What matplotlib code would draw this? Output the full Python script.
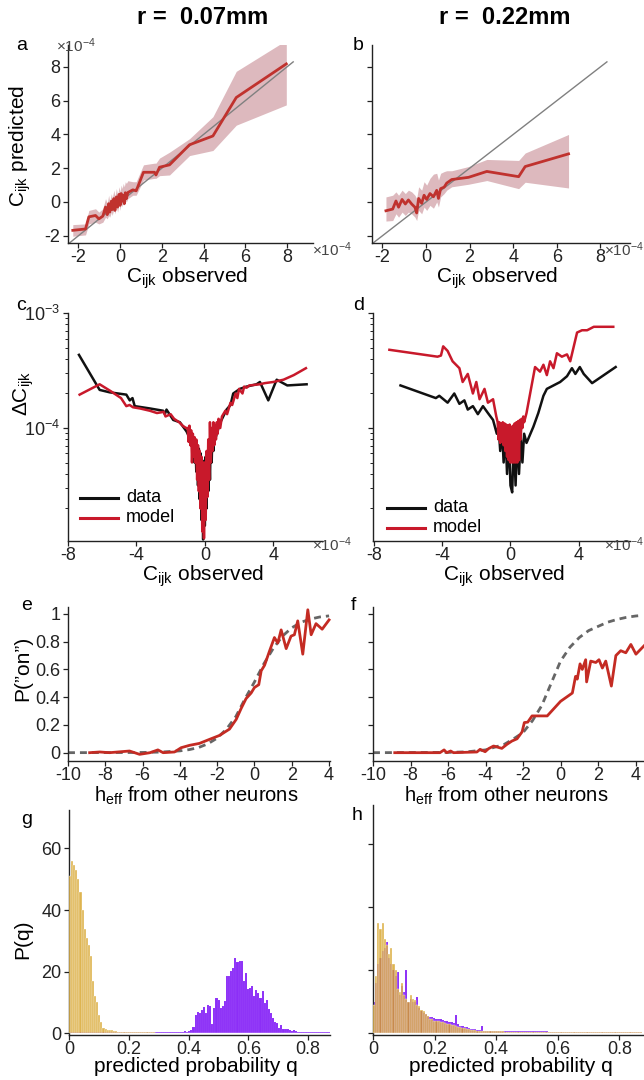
import numpy as np
import matplotlib
matplotlib.use("Agg")
import matplotlib.pyplot as plt
from matplotlib.ticker import FixedLocator, NullFormatter

plt.rcParams['font.family'] = ['Liberation Sans', 'DejaVu Sans']
plt.rcParams['mathtext.fontset'] = 'custom'
plt.rcParams['mathtext.rm'] = 'Liberation Sans'
plt.rcParams['mathtext.it'] = 'Liberation Sans:italic'
plt.rcParams['mathtext.bf'] = 'Liberation Sans:bold'
plt.rcParams['axes.unicode_minus'] = False

# ---------------- data ----------------
titles = ["r =  0.07mm", "r =  0.22mm"]

# panel a (units 1e-4)
a_x = [-2.27, -1.66, -1.5, -1.18, -1.02, -0.83, -0.7, -0.62, -0.55, -0.5, -0.42, -0.38, -0.3, -0.25,
       -0.18, -0.12, -0.05, 0.0, 0.05, 0.1, 0.15, 0.2, 0.25, 0.3, 0.37, 0.61, 0.77, 1.12, 1.65, 1.72,
       1.89, 2.37, 3.33, 4.45, 5.57, 7.97]
a_y = [-1.68, -1.6, -0.88, -0.8, -1.0, -0.84, -0.3, -0.75, -0.1, -0.6, 0.05, -0.45, 0.2, -0.5,
       0.3, -0.3, 0.45, -0.2, 0.5, 0.05, 0.4, -0.1, 0.55, 0.2, 0.56, 0.72, 0.66, 1.76, 1.76, 1.6,
       2.06, 2.2, 3.39, 3.91, 6.19, 8.18]
a_lo = [-2.03, -1.95, -1.3, -1.2, -1.3, -1.2, -0.9, -1.0, -0.8, -0.9, -0.6, -0.8, -0.4, -0.7,
        -0.3, -0.6, -0.1, -0.5, 0.0, -0.3, 0.0, -0.2, 0.1, 0.0, 0.2, 0.4, 0.4, 1.3, 1.4, 1.4,
        1.56, 1.6, 2.75, 3.05, 4.55, 5.75]
a_hi = [-1.34, -1.3, -0.5, -0.4, -0.6, -0.4, 0.2, -0.1, 0.4, 0.0, 0.5, 0.2, 0.7, 0.3,
        0.8, 0.4, 0.9, 0.6, 1.0, 0.8, 1.1, 0.9, 1.2, 1.1, 1.26, 1.2, 1.2, 2.2, 2.3, 2.3,
        2.6, 2.95, 3.75, 5.05, 7.74, 9.58]

# panel b
b_x = [-1.84, -1.53, -1.38, -1.26, -1.1, -0.95, -0.81, -0.66, -0.51, -0.43, -0.34, -0.2, -0.09,
       0.03, 0.18, 0.34, 0.49, 0.57, 0.67, 0.83, 0.95, 1.18, 1.95, 2.79, 4.25, 4.55, 6.54]
b_y = [-0.52, -0.42, 0.06, -0.31, 0.15, -0.12, 0.12, -0.12, -0.31, -0.65, 0.21, -0.08, 0.4,
       0.15, 0.5, 0.31, 0.69, 0.21, 0.79, 0.88, 1.12, 1.33, 1.46, 1.81, 1.5, 2.1, 2.85]
b_lo = [-1.13, -1.1, -0.7, -0.9, -0.6, -0.8, -0.6, -0.7, -0.9, -1.1, -0.5, -0.7, -0.3,
        -0.5, -0.2, -0.37, 0.0, -0.3, 0.3, 0.5, 0.7, 0.9, 1.05, 1.27, 0.79, 1.17, 0.83]
b_hi = [0.3, 0.4, 0.6, 0.4, 0.7, 0.5, 0.7, 0.6, 0.4, 0.2, 0.9, 0.7, 1.2, 1.0, 1.4, 1.65,
        1.7, 1.3, 1.7, 1.8, 1.85, 1.85, 2.1, 2.52, 2.46, 2.9, 4.0]

# panel c (x in 1e-4, y as log10)
c_data_x = [-7.36, -6.15, -5.56, -4.59, -4.39, -4.23, -4.1, -3.22, -2.44, -2.34, -2.24, -1.85, -1.46,
            -1.07, -0.85, -0.7,
            -0.65, -0.6, -0.55, -0.5, -0.45, -0.4, -0.35, -0.3, -0.25, -0.2, -0.15, -0.1, -0.05, 0.0,
            0.05, 0.1, 0.15, 0.2, 0.25, 0.3, 0.35, 0.4, 0.45, 0.5, 0.55, 0.6,
            0.88, 1.27, 1.5, 1.66, 2.05, 2.44, 3.02, 3.22, 3.71, 4.2, 4.82, 5.95]
c_data_logy = [-3.364, -3.669, -3.69, -3.71, -3.76, -3.74, -3.81, -3.83, -3.85, -3.88, -3.84, -3.93, -3.95,
               -4.03, -4.1, -4.18,
               -4.1, -4.3, -4.12, -4.38, -4.15, -4.5, -4.18, -4.62, -4.22, -4.8, -4.28, -4.97, -4.3, -4.85,
               -4.25, -4.7, -4.2, -4.55, -4.15, -4.45, -4.05, -4.3, -4.0, -4.2, -3.98, -4.1,
               -3.96, -3.84, -3.8, -3.70, -3.66, -3.64, -3.62, -3.60, -3.76, -3.58, -3.63, -3.62]
c_model_x = [-7.32, -6.15, -5.5, -4.9, -4.59, -4.4, -4.2, -3.8, -3.22, -2.8, -2.4, -2.3, -2.0, -1.8,
             -1.5, -1.3, -1.1,
             -1.0, -0.95, -0.9, -0.85, -0.8, -0.75, -0.7, -0.65, -0.6, -0.55, -0.5, -0.45, -0.4, -0.35,
             -0.3, -0.25, -0.2, -0.15, -0.1, -0.05, 0.0, 0.05, 0.1, 0.15, 0.2, 0.25, 0.3, 0.35, 0.4,
             0.45, 0.5, 0.55, 0.6, 0.65, 0.7, 0.75, 0.8, 0.9, 1.0,
             1.2, 1.3, 1.5, 1.6, 1.8, 1.9, 2.0, 2.2, 2.3, 2.44, 2.6, 3.22, 3.5, 4.0, 4.6, 5.2, 5.91]
c_model_logy = [-3.71, -3.62, -3.68, -3.74, -3.81, -3.8, -3.82, -3.83, -3.85, -3.87, -3.86, -3.9, -3.88,
                -3.92, -3.95, -3.98, -4.0,
                -4.0, -4.12, -3.98, -4.15, -4.02, -4.3, -4.05, -4.25, -4.08, -4.3, -4.1, -4.45, -4.15,
                -4.55, -4.2, -4.7, -4.25, -4.9, -4.3, -4.96, -4.3, -4.8, -4.2, -4.6, -4.1, -4.45,
                -3.95, -4.3, -4.0, -4.2, -3.95, -4.15, -3.98, -4.1, -3.95, -4.05, -3.92, -4.0, -3.9,
                -3.85, -3.88, -3.78, -3.8, -3.7, -3.74, -3.66, -3.7, -3.64, -3.65, -3.63, -3.62,
                -3.61, -3.6, -3.58, -3.54, -3.48]

# panel d
d_data_x = [-6.44, -4.37, -4.17, -3.68, -3.29, -2.99, -2.7, -2.5, -2.2, -1.91, -1.61, -1.32, -1.02,
            -0.8, -0.7, -0.6, -0.5, -0.4, -0.3, -0.2, -0.1, 0.0, 0.1, 0.2, 0.3, 0.4, 0.5, 0.6, 0.7,
            0.8, 0.94, 1.34, 1.63, 1.93, 2.13, 2.52, 2.91, 3.31, 3.6, 3.8, 4.06, 4.29, 4.78, 6.16]
d_data_logy = [-3.63, -3.74, -3.72, -3.78, -3.70, -3.79, -3.76, -3.84, -3.81, -3.88, -3.81, -3.87, -3.93,
               -4.05, -3.98, -4.2, -4.0, -4.3, -4.02, -4.4, -4.05, -4.5, -4.56, -4.08, -4.5, -4.05,
               -4.4, -4.08, -4.3, -4.05, -4.13, -3.99, -3.87, -3.72, -3.66, -3.63, -3.6, -3.55,
               -3.48, -3.53, -3.47, -3.53, -3.61, -3.47]
d_model_x = [-7.09, -4.27, -4.07, -3.94, -3.68, -3.39, -2.99, -2.8, -2.5, -2.2, -2.0, -1.81, -1.52,
             -1.32, -1.02, -0.83,
             -0.75, -0.7, -0.65, -0.6, -0.55, -0.5, -0.45, -0.4, -0.35, -0.3, -0.25, -0.2, -0.15,
             -0.1, -0.05, 0.0, 0.05, 0.1, 0.15, 0.2, 0.25, 0.3, 0.35, 0.4, 0.45, 0.5, 0.55, 0.6,
             0.65, 0.7, 0.75, 0.8, 0.94,
             1.24, 1.44, 1.73, 1.93, 2.13, 2.32, 2.52, 2.72, 3.01, 3.31, 3.5, 3.9, 4.19, 4.49,
             4.88, 6.02]
d_model_logy = [-3.32, -3.38, -3.37, -3.29, -3.33, -3.42, -3.48, -3.6, -3.53, -3.7, -3.6, -3.75, -3.66,
                -3.78, -3.75, -3.9,
                -3.95, -4.1, -3.95, -4.13, -3.96, -4.12, -3.95, -4.15, -3.96, -4.2, -3.97, -4.25,
                -3.98, -4.28, -3.97, -4.3, -3.99, -4.3, -3.98, -4.3, -3.96, -4.3, -3.95, -4.3,
                -3.94, -4.28, -3.93, -4.1, -3.92, -4.0, -3.9, -3.95, -3.87,
                -3.63, -3.47, -3.51, -3.45, -3.54, -3.42, -3.48, -3.35, -3.38, -3.36, -3.42, -3.17,
                -3.15, -3.15, -3.12, -3.12]

# panel e
e_fit_x = [-10, -6, -5, -4, -3.5, -3, -2.5, -2, -1.5, -1, -0.5, 0, 0.5, 1, 1.5, 2, 2.5, 3, 3.5, 4]
e_fit_y = [0.0, 0.0016, 0.0045, 0.013, 0.022, 0.037, 0.064, 0.105, 0.17, 0.26, 0.39, 0.51, 0.64,
           0.75, 0.84, 0.90, 0.94, 0.963, 0.978, 0.986]
e_x = [-8.84, -8.3, -7.77, -6.7, -6.16, -5.6, -5.18, -4.9, -4.29, -3.93, -3.48, -2.95, -2.41, -1.88,
       -1.34, -0.98, -0.71, -0.45, -0.18, 0.0, 0.23, 0.36, 0.54, 0.8, 1.07, 1.25, 1.43, 1.7, 1.96,
       2.14, 2.32, 2.59, 2.86, 3.04, 3.3, 3.63, 4.0]
e_y = [0.0, 0.005, 0.0, 0.012, -0.012, 0.0, 0.02, 0.0, 0.005, 0.036, 0.053, 0.067, 0.096, 0.124,
       0.17, 0.24, 0.32, 0.39, 0.43, 0.47, 0.49, 0.59, 0.63, 0.73, 0.83, 0.79, 0.885, 0.75, 0.84,
       0.85, 0.95, 0.71, 1.03, 0.85, 0.93, 0.89, 0.957]

# panel f
f_fit_x = [-10, -6, -5, -4, -3.5, -3, -2.5, -2, -1.5, -1, -0.5, 0, 0.5, 1, 1.5, 2, 2.5, 3, 3.5, 4, 4.4]
f_fit_y = [0.0, 0.002, 0.006, 0.02, 0.04, 0.06, 0.1, 0.145, 0.23, 0.34, 0.5, 0.66, 0.76, 0.83, 0.88,
           0.91, 0.94, 0.96, 0.975, 0.985, 0.99]
f_x = [-8.84, -6.43, -6.21, -6.07, -5.86, -5.71, -4.46, -4.29, -4.02, -3.84, -3.57, -3.13, -2.86,
       -2.59, -2.32, -2.05, -1.93, -1.75, -1.52, -0.71, 0.0, 0.63, 0.8, 0.89, 1.04, 1.16, 1.34, 1.39,
       1.61, 1.88, 2.05, 2.23, 2.41, 2.71, 2.95, 3.21, 3.48, 3.75, 4.02, 4.45]
f_y = [0.0, 0.0, 0.02, 0.0, 0.012, 0.0, 0.005, 0.024, 0.007, 0.029, 0.048, 0.031, 0.06, 0.084, 0.1,
       0.15, 0.217, 0.22, 0.265, 0.265, 0.37, 0.43, 0.55, 0.53, 0.64, 0.6, 0.67, 0.51, 0.66, 0.65,
       0.67, 0.61, 0.66, 0.48, 0.7, 0.735, 0.72, 0.78, 0.71, 0.77]

# panels g, h: histogram heights, bins of width 0.007 from 0 to 0.875
bin_width = 0.007
g_yellow = ([51, 56, 54.5, 53, 50, 46, 40, 34, 31, 28.5, 25, 17, 12, 10, 6, 3.5, 1.8, 1.4, 1.0, 0.9,
             0.9, 0.7, 0.6, 0.5, 0.5, 0.5, 0.5, 0.5] + [0.3] * 13 + [0.2] * 84)
g_purple = ([0.3] * 20 + [0.4] * 35 +
            [0.8, 0.4, 0.6, 1.0, 2, 6, 6.8, 6.4, 7.5, 8.5, 6.6, 9.3, 8.8, 3, 8.3, 11.5, 10.7, 8.3,
             8.8, 10.4, 18.6, 18.6, 20.2, 21.3, 24.3, 23, 23.3, 23.3, 17, 19.7, 14.2, 14.6, 15.3,
             12, 13.9, 13.2, 11.5, 13.7, 9.9, 10.7, 8, 6.4, 5, 3.7, 3.4, 1.7, 2.6, 1.5, 1.2, 1.4,
             1, 0.7, 0.9, 0.7, 0.5, 0.5] + [0.3] * 14)
h_yellow = ([9, 18, 35, 33, 35, 30, 28, 25, 27, 22, 20, 14, 13, 16, 12, 11, 10, 12, 11, 10.5, 9, 8.5,
             7.5, 7, 6, 5.5, 4.5, 4.5, 4, 4, 3.8, 3.6, 3.4, 3.2, 3, 2.8, 2.7, 2.5, 2.3, 2, 1.8,
             1.6, 1.5, 1.3, 1.2, 1.1, 1, 0.9, 0.8, 0.8, 0.7] + [0.6] * 10 + [0.4] * 20 + [0.3] * 44)
h_purple = ([10, 16, 22, 24, 26, 27, 29, 24, 22, 20, 18, 19.5, 12, 15, 13, 20, 10, 11, 10, 10, 11.5,
             8, 7, 6.5, 6, 5.5, 5, 5, 4.8, 4.6, 4.5, 4.4, 4.2, 4, 3.8, 3.6, 3.4, 3.2, 5.7, 2.8,
             2.4, 2.2, 2.0, 1.8, 1.6, 1.4, 1.3, 1.2, 1.1, 1.0, 2.4] + [0.8] * 10 + [0.6] * 20 + [0.5] * 44)

# ---------------- style ----------------
W, H = 644, 1080
fig = plt.figure(figsize=(W / 100, H / 100), dpi=100)

def rect(x0, y0, x1, y1):
    return [x0 / W, 1 - y1 / H, (x1 - x0) / W, (y1 - y0) / H]

def fx(x):
    return x / W

def fy(y):
    return 1 - y / H

TICK = 13
LAB = 15
AXC = '#222222'
RED_AB = '#C0322E'
FILL_AB = '#DDB9BE'
RED_CD = '#C8192B'
RED_EF = '#C42B23'
YEL = '#D6A124'
PUR = '#8C2EF7'

def style(ax, hide_y=False):
    for s in ['top', 'right']:
        ax.spines[s].set_visible(False)
    for s in ['left', 'bottom']:
        ax.spines[s].set_color(AXC)
        ax.spines[s].set_linewidth(1.0)
    ax.tick_params(direction='out', length=3.5, width=0.9, colors=AXC, labelsize=TICK, pad=2)
    ax.tick_params(which='minor', direction='out', length=2, width=0.7, colors=AXC)
    ax.tick_params(axis='x', pad=1)
    if hide_y:
        ax.tick_params(axis='y', labelleft=False)

def offset_text(x, y):
    fig.text(fx(x), fy(y), r'$\times10^{-4}$', fontsize=11, color='#444444', ha='left', va='baseline')

# titles
fig.text(fx(203), fy(18), titles[0], fontsize=17, fontweight='bold', ha='center', va='center')
fig.text(fx(505), fy(18), titles[1], fontsize=17, fontweight='bold', ha='center', va='center')

# ---- a, b ----
for (x0, x1, xl, px, py, plo, phi, letter, lpos, hide) in [
        (68, 313, (-2.5, 9.25), a_x, a_y, a_lo, a_hi, 'a', (22, 45), False),
        (372, 630, (-2.48, 9.36), b_x, b_y, b_lo, b_hi, 'b', (358, 45), True)]:
    ax = fig.add_axes(rect(x0, 45, x1, 243))
    style(ax, hide)
    ax.fill_between(px, plo, phi, color=FILL_AB, lw=0, zorder=1)
    ax.plot([-2.5, 8.3], [-2.5, 8.3], color='#808080', lw=1.0, zorder=2)
    ax.plot(px, py, color=RED_AB, lw=2.0, zorder=3)
    ax.set_xlim(*xl)
    ax.set_ylim(-2.43, 9.3)
    ax.set_xticks([-2, 0, 2, 4, 6, 8])
    ax.set_yticks([-2, 0, 2, 4, 6, 8])
    ax.set_xticklabels(['-2', '0', '2', '4', '6', '8'])
    ax.set_yticklabels(['-2', '0', '2', '4', '6', '8'])
    fig.text(fx(lpos[0]), fy(lpos[1]), letter, fontsize=14, ha='center', va='center')

offset_text(56, 52)
offset_text(312, 256)
offset_text(604, 256)
fig.text(fx(187), fy(283), r'C$_{\mathrm{ijk}}$ observed', fontsize=LAB, ha='center', va='baseline')
fig.text(fx(497), fy(283), r'C$_{\mathrm{ijk}}$ observed', fontsize=LAB, ha='center', va='baseline')
fig.text(fx(20), fy(146), r'C$_{\mathrm{ijk}}$ predicted', fontsize=LAB, ha='center', va='center', rotation=90)

# ---- c, d ----
for (x0, x1, xl, dx, dly, mx, mly, letter, lpos, hide, leg) in [
        (68, 322, (-8.0, 6.85), c_data_x, c_data_logy, c_model_x, c_model_logy, 'c', (21, 305), False, (80, 498)),
        (373, 630, (-8.05, 7.0), d_data_x, d_data_logy, d_model_x, d_model_logy, 'd', (359, 305), True, (387, 508))]:
    ax = fig.add_axes(rect(x0, 313, x1, 541))
    style(ax, hide)
    ax.set_yscale('log')
    ax.plot(dx, 10 ** np.array(dly), color='#111111', lw=1.8, label='data')
    ax.plot(mx, 10 ** np.array(mly), color=RED_CD, lw=1.8, label='model')
    ax.set_xlim(*xl)
    ax.set_ylim(1.04e-5, 1.0e-3)
    ax.set_xticks([-8, -4, 0, 4])
    ax.set_xticklabels(['-8', '-4', '0', '4'])
    ax.yaxis.set_major_locator(FixedLocator([1e-4, 1e-3]))
    ax.yaxis.set_minor_locator(FixedLocator([k * 10.0 ** e for e in (-5, -4) for k in range(2, 10)]))
    ax.yaxis.set_minor_formatter(NullFormatter())
    if not hide:
        ax.set_yticklabels([r'10$^{-4}$', r'10$^{-3}$'])
    lx, ly = leg
    fig.add_artist(plt.Line2D([fx(lx), fx(lx + 38)], [fy(ly), fy(ly)], color='#111111', lw=2.2))
    fig.add_artist(plt.Line2D([fx(lx), fx(lx + 38)], [fy(ly + 20), fy(ly + 20)], color=RED_CD, lw=2.2))
    fig.text(fx(lx + 46), fy(ly), 'data', fontsize=13, ha='left', va='center')
    fig.text(fx(lx + 46), fy(ly + 20), 'model', fontsize=13, ha='left', va='center')
    fig.text(fx(lpos[0]), fy(lpos[1]), letter, fontsize=14, ha='center', va='center')

offset_text(312, 551)
offset_text(604, 551)
fig.text(fx(203), fy(581), r'C$_{\mathrm{ijk}}$ observed', fontsize=LAB, ha='center', va='baseline')
fig.text(fx(504), fy(581), r'C$_{\mathrm{ijk}}$ observed', fontsize=LAB, ha='center', va='baseline')
fig.text(fx(24), fy(393), r'$\Delta$C$_{\mathrm{ijk}}$', fontsize=LAB, ha='center', va='center', rotation=90)

# ---- e, f ----
for (x0, x1, xl, fxs, fys, rx, ry, letter, lpos, hide) in [
        (68, 330, (-10, 4.05), e_fit_x, e_fit_y, e_x, e_y, 'e', (27, 605), False),
        (373, 644, (-10, 4.45), f_fit_x, f_fit_y, f_x, f_y, 'f', (353, 605), True)]:
    ax = fig.add_axes(rect(x0, 607, x1, 761))
    style(ax, hide)
    ax.tick_params(axis='x', pad=0.5)
    ax.plot(fxs, fys, color='#666666', lw=2.0, ls=(0, (2.5, 1.8)), zorder=2)
    ax.plot(rx, ry, color=RED_EF, lw=2.0, zorder=3, clip_on=False)
    ax.set_xlim(*xl)
    ax.set_ylim(-0.06, 1.05)
    ax.set_xticks([-10, -8, -6, -4, -2, 0, 2, 4])
    ax.set_xticklabels(['-10', '-8', '-6', '-4', '-2', '0', '2', '4'])
    ax.set_yticks([0, 0.2, 0.4, 0.6, 0.8, 1.0])
    if not hide:
        ax.set_yticklabels(['0', '0.2', '0.4', '0.6', '0.8', '1'])
    fig.text(fx(lpos[0]), fy(lpos[1]), letter, fontsize=14, ha='center', va='center')

fig.text(fx(196), fy(802), r'h$_{\mathrm{eff}}$ from other neurons', fontsize=14.5, ha='center', va='baseline')
fig.text(fx(506), fy(802), r'h$_{\mathrm{eff}}$ from other neurons', fontsize=14.5, ha='center', va='baseline')
fig.text(fx(23), fy(668), 'P(”on”)', fontsize=LAB, ha='center', va='center', rotation=90)

# ---- g, h ----
edges = np.arange(len(g_yellow)) * bin_width
for (x0, x1, xl, ytop, yv, pv, letter, lpos, hide) in [
        (69, 330, (0, 0.873), 810, g_yellow, g_purple, 'g', (27, 819), False),
        (373, 643, (0, 0.877), 805, h_yellow, h_purple, 'h', (357, 815), True)]:
    ax = fig.add_axes(rect(x0, ytop, x1, 1035))
    style(ax, hide)
    ax.bar(edges, pv, width=bin_width, align='edge', color=PUR, edgecolor=(1, 1, 1, 0.15), lw=0.3, zorder=2)
    ax.bar(edges, yv, width=bin_width, align='edge', color=YEL, alpha=0.8, edgecolor=(1, 1, 1, 0.2),
           lw=0.3, zorder=3)
    ax.set_xlim(*xl)
    ax.set_ylim(-0.6, 72.5)
    ax.set_xticks([0, 0.2, 0.4, 0.6, 0.8])
    ax.set_xticklabels(['0', '0.2', '0.4', '0.6', '0.8'])
    ax.set_yticks([0, 20, 40, 60])
    if not hide:
        ax.set_yticklabels(['0', '20', '40', '60'])
    fig.text(fx(lpos[0]), fy(lpos[1]), letter, fontsize=14, ha='center', va='center')

fig.text(fx(196), fy(1072), 'predicted probability q', fontsize=LAB, ha='center', va='baseline')
fig.text(fx(511), fy(1072), 'predicted probability q', fontsize=LAB, ha='center', va='baseline')
fig.text(fx(23), fy(939), 'P(q)', fontsize=LAB, ha='center', va='center', rotation=90)

fig.savefig('out.png', dpi=100)
